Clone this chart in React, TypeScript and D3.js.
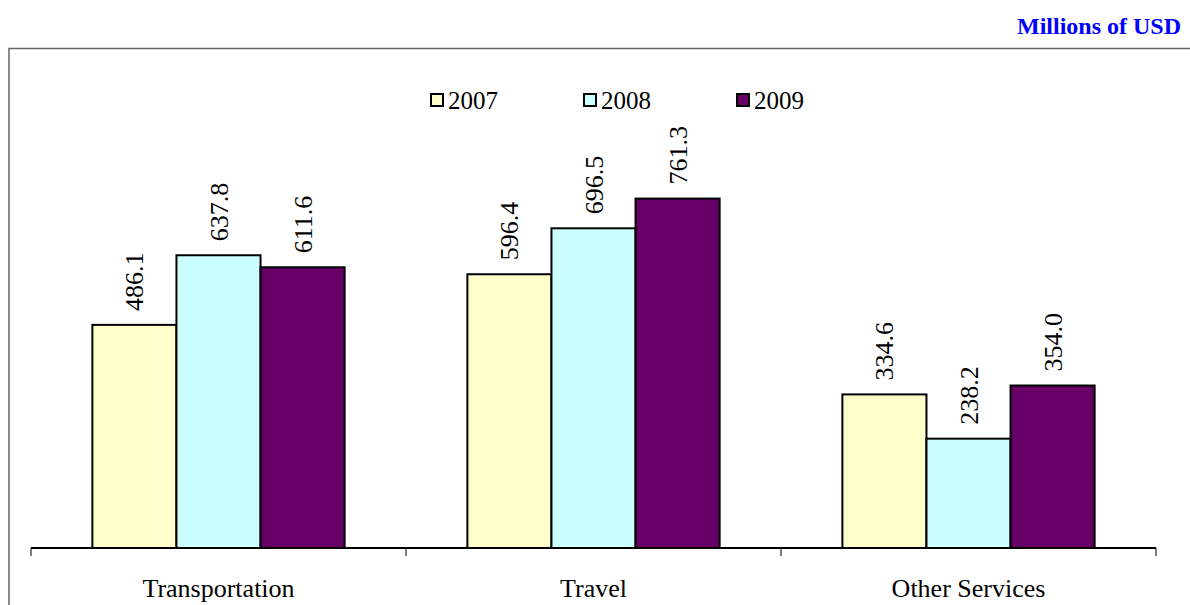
import React from "react";
import * as d3 from "d3";

// Services exports by category, millions of USD
const categories = ["Transportation", "Travel", "Other Services"];
const years = ["2007", "2008", "2009"];
const values2007 = [486.1, 596.4, 334.6];
const values2008 = [637.8, 696.5, 238.2];
const values2009 = [611.6, 761.3, 354.0];
const seriesValues = [values2007, values2008, values2009];
const seriesColors = ["#FFFFCC", "#CCFFFF", "#660066"];

const W = 1190;
const H = 605;
const FONT = "'Liberation Serif', 'Times New Roman', serif";

export default function App() {
  const baseY = 548;
  const x0 = d3.scaleBand<string>().domain(categories).range([31, 1156]).paddingInner(0).paddingOuter(0);
  const x1 = d3
    .scaleBand<string>()
    .domain(years)
    .range([0, x0.bandwidth()])
    .paddingInner(0)
    .paddingOuter(0.73);
  const y = d3.scaleLinear().domain([0, 800]).range([baseY, baseY - 367.2]);

  const ticks = [...categories.map((c) => x0(c) as number), 1156];

  const legendX = [431, 584, 737];

  return (
    <svg
      width={W}
      height={H}
      style={{ position: "absolute", left: 0, top: 0, background: "#fff" }}
      fontFamily={FONT}
    >
      {/* chart frame */}
      <path d={`M9,${H} V48.5 H${W}`} fill="none" stroke="#666" strokeWidth={1.5} />

      <text x={1181} y={34} textAnchor="end" fontSize={24} fontWeight="bold" fill="#0000FF">
        Millions of USD
      </text>

      {/* legend */}
      {years.map((yr, i) => (
        <g key={yr}>
          <rect x={legendX[i]} y={94} width={12} height={12} fill={seriesColors[i]} stroke="#000" strokeWidth={2} />
          <text x={legendX[i] + 17} y={109} fontSize={25} fill="#000">
            {yr}
          </text>
        </g>
      ))}

      {/* bars */}
      {categories.map((c, ci) => (
        <g key={c} transform={`translate(${x0(c)},0)`}>
          {years.map((yr, si) => {
            const v = seriesValues[si][ci];
            const bx = x1(yr) as number;
            const bw = x1.bandwidth();
            const top = y(v);
            const cx = bx + bw / 2;
            return (
              <g key={yr}>
                <rect
                  x={bx}
                  y={top}
                  width={bw}
                  height={baseY - top}
                  fill={seriesColors[si]}
                  stroke="#000"
                  strokeWidth={2}
                />
                <text
                  transform={`translate(${cx + 9},${top - 14}) rotate(-90)`}
                  fontSize={26}
                  fill="#000"
                >
                  {v.toFixed(1)}
                </text>
              </g>
            );
          })}
        </g>
      ))}

      {/* category axis */}
      {ticks.map((t, i) => (
        <line key={i} x1={t} x2={t} y1={baseY} y2={556} stroke="#555" strokeWidth={1.5} />
      ))}
      <line x1={31} x2={1156} y1={baseY} y2={baseY} stroke="#000" strokeWidth={2} />
      {categories.map((c) => (
        <text
          key={c}
          x={(x0(c) as number) + x0.bandwidth() / 2}
          y={597}
          textAnchor="middle"
          fontSize={26}
          fill="#000"
        >
          {c}
        </text>
      ))}
    </svg>
  );
}
